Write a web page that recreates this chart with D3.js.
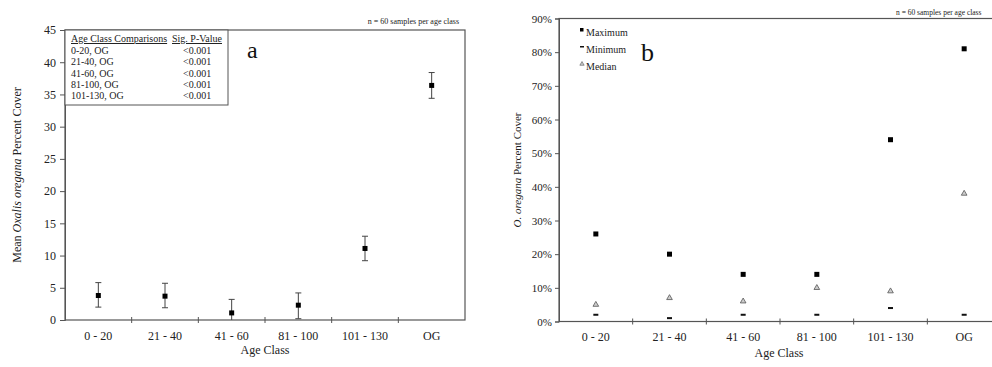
<!DOCTYPE html>
<html><head><meta charset="utf-8">
<script src="https://cdn.jsdelivr.net/npm/d3@7"></script>
<style>body{margin:0;background:#fff}svg{display:block}</style>
</head><body><svg id="c" width="992" height="367" font-family="Liberation Serif, Times New Roman, serif"></svg>
<script>
const categories = ["0 - 20","21 - 40","41 - 60","81 - 100","101 - 130","OG"];
const meanCover = [3.8, 3.7, 1.1, 2.3, 11.1, 36.4];
const errLow = [2.0, 1.9, 0.0, 0.2, 9.2, 34.4];
const errHigh = [5.8, 5.7, 3.2, 4.2, 13.0, 38.4];
const leftTicks = [0,5,10,15,20,25,30,35,40,45];
const compRows = ["0-20, OG","21-40, OG","41-60, OG","81-100, OG","101-130, OG"];
const compP = ["<0.001","<0.001","<0.001","<0.001","<0.001"];
const maxCover = [26, 20, 14, 14, 54, 81];
const minCover = [2, 1, 2, 2, 4, 2];
const medCover = [5, 7, 6, 10, 9, 38];
const rightTicks = [0,10,20,30,40,50,60,70,80,90];

const FONT = "'Liberation Serif', 'Times New Roman', serif";
const svg = d3.select("#c");
const axisCol = "#555";
function txt(g){ return g.append("text").style("font-family",FONT); }

// ---------- Chart a ----------
{
  const L=65, R=465, T=30, B=320;
  const x = d3.scaleBand().domain(categories).range([L,R]);
  const y = d3.scaleLinear().domain([0,45]).range([B,T]);
  const g = svg.append("g");
  g.append("rect").attr("x",L).attr("y",T).attr("width",R-L).attr("height",B-T)
    .attr("fill","none").attr("stroke",axisCol).attr("stroke-width",1.2);
  const ya = g.append("g").attr("transform",`translate(${L},0)`)
    .call(d3.axisLeft(y).tickValues(leftTicks).tickSize(5).tickPadding(4));
  ya.attr("font-family",null);
  ya.select(".domain").attr("stroke",axisCol);
  ya.selectAll("line").attr("stroke",axisCol);
  ya.selectAll("text").attr("font-size",12).attr("fill","#222").style("font-family",FONT);
  const bounds = categories.slice(1).map(c=>x(c));
  g.selectAll(".xt").data(bounds).enter().append("line")
    .attr("x1",d=>d).attr("x2",d=>d).attr("y1",B-3).attr("y2",B+3).attr("stroke",axisCol);
  g.selectAll(".xl").data(categories).enter().append("text").style("font-family",FONT)
    .attr("x",d=>x(d)+x.bandwidth()/2).attr("y",340).attr("text-anchor","middle")
    .attr("font-size",12).attr("fill","#222").text(d=>d);
  txt(g).attr("x",265).attr("y",354).attr("text-anchor","middle").attr("font-size",12).attr("fill","#222").text("Age Class");
  const yl = txt(g).attr("transform",`translate(21,${(T+B)/2}) rotate(-90)`).attr("text-anchor","middle").attr("font-size",12).attr("fill","#222");
  yl.append("tspan").text("Mean ");
  yl.append("tspan").attr("font-style","italic").text("Oxalis oregana");
  yl.append("tspan").text(" Percent Cover");
  const cx = (i)=>x(categories[i])+x.bandwidth()/2;
  categories.forEach((c,i)=>{
    g.append("line").attr("x1",cx(i)).attr("x2",cx(i)).attr("y1",y(errLow[i])).attr("y2",y(errHigh[i])).attr("stroke","#444");
    [errLow[i],errHigh[i]].forEach(v=>{
      if(v>0) g.append("line").attr("x1",cx(i)-3).attr("x2",cx(i)+3).attr("y1",y(v)).attr("y2",y(v)).attr("stroke","#444");
    });
    g.append("rect").attr("x",cx(i)-2.5).attr("y",y(meanCover[i])-2.5).attr("width",5).attr("height",5).attr("fill","#000");
  });
  g.append("rect").attr("x",L).attr("y",T).attr("width",163).attr("height",75).attr("fill","#fff").attr("stroke",axisCol);
  txt(g).attr("x",71).attr("y",42).attr("font-size",10).attr("text-decoration","underline").attr("fill","#222").text("Age Class Comparisons");
  txt(g).attr("x",172).attr("y",42).attr("font-size",10).attr("text-decoration","underline").attr("fill","#222").text("Sig. P-Value");
  compRows.forEach((r,i)=>{
    txt(g).attr("x",71).attr("y",54+i*11.3).attr("font-size",10).attr("fill","#222").text(r);
    txt(g).attr("x",183).attr("y",54+i*11.3).attr("font-size",10).attr("fill","#222").text(compP[i]);
  });
  txt(g).attr("x",247).attr("y",58).attr("font-size",24).attr("fill","#111").text("a");
  txt(g).attr("x",459).attr("y",24).attr("text-anchor","end").attr("font-size",8).attr("fill","#222").text("n = 60 samples per age class");
}

// ---------- Chart b ----------
{
  const L=559, R=1001, T=18.5, B=321.5;
  const x = d3.scaleBand().domain(categories).range([L,R]);
  const y = d3.scaleLinear().domain([0,90]).range([B,T]);
  const g = svg.append("g");
  g.append("rect").attr("x",L).attr("y",T).attr("width",R-L).attr("height",B-T)
    .attr("fill","none").attr("stroke",axisCol).attr("stroke-width",1.2);
  const ya = g.append("g").attr("transform",`translate(${L},0)`)
    .call(d3.axisLeft(y).tickValues(rightTicks).tickSize(4).tickPadding(3).tickFormat(d=>d+"%"));
  ya.attr("font-family",null);
  ya.select(".domain").attr("stroke",axisCol);
  ya.selectAll("line").attr("stroke",axisCol);
  ya.selectAll("text").attr("font-size",11).attr("fill","#222").style("font-family",FONT);
  const bounds = categories.slice(1).map(c=>x(c));
  g.selectAll(".xt").data(bounds).enter().append("line")
    .attr("x1",d=>d).attr("x2",d=>d).attr("y1",B-3).attr("y2",B+3).attr("stroke",axisCol);
  g.selectAll(".xl").data(categories).enter().append("text").style("font-family",FONT)
    .attr("x",d=>x(d)+x.bandwidth()/2).attr("y",341).attr("text-anchor","middle")
    .attr("font-size",12).attr("fill","#222").text(d=>d);
  txt(g).attr("x",779).attr("y",357).attr("text-anchor","middle").attr("font-size",12).attr("fill","#222").text("Age Class");
  const yl = txt(g).attr("transform",`translate(521,${(T+B)/2}) rotate(-90)`).attr("text-anchor","middle").attr("font-size",11).attr("fill","#222");
  yl.append("tspan").attr("font-style","italic").text("O. oregana");
  yl.append("tspan").text(" Percent Cover");
  const cx = (i)=>x(categories[i])+x.bandwidth()/2;
  const tri = d3.symbol().type(d3.symbolTriangle).size(14);
  categories.forEach((c,i)=>{
    g.append("rect").attr("x",cx(i)-2.5).attr("y",y(maxCover[i])-2.5).attr("width",5).attr("height",5).attr("fill","#000");
    g.append("rect").attr("x",cx(i)-2.5).attr("y",y(minCover[i])-1).attr("width",5).attr("height",2).attr("fill","#111");
    g.append("path").attr("d",tri).attr("transform",`translate(${cx(i)},${y(medCover[i])})`).attr("fill","#ccc").attr("stroke","#555").attr("stroke-width",0.8);
  });
  const lg = [["Maximum",34],["Minimum",51],["Median",68]];
  g.append("rect").attr("x",580).attr("y",28).attr("width",3.5).attr("height",3.5).attr("fill","#000");
  g.append("rect").attr("x",580).attr("y",46).attr("width",4).attr("height",1.5).attr("fill","#111");
  g.append("path").attr("d",d3.symbol().type(d3.symbolTriangle).size(8)).attr("transform","translate(582,64)").attr("fill","#ccc").attr("stroke","#555").attr("stroke-width",0.6);
  lg.forEach(([t,yy])=>txt(g).attr("x",586).attr("y",yy+2).attr("font-size",10).attr("fill","#222").text(t));
  txt(g).attr("x",641).attr("y",61).attr("font-size",26).attr("fill","#111").text("b");
  txt(g).attr("x",896).attr("y",15).attr("font-size",7.5).attr("fill","#222").text("n = 60 samples per age class");
}
</script></body></html>
